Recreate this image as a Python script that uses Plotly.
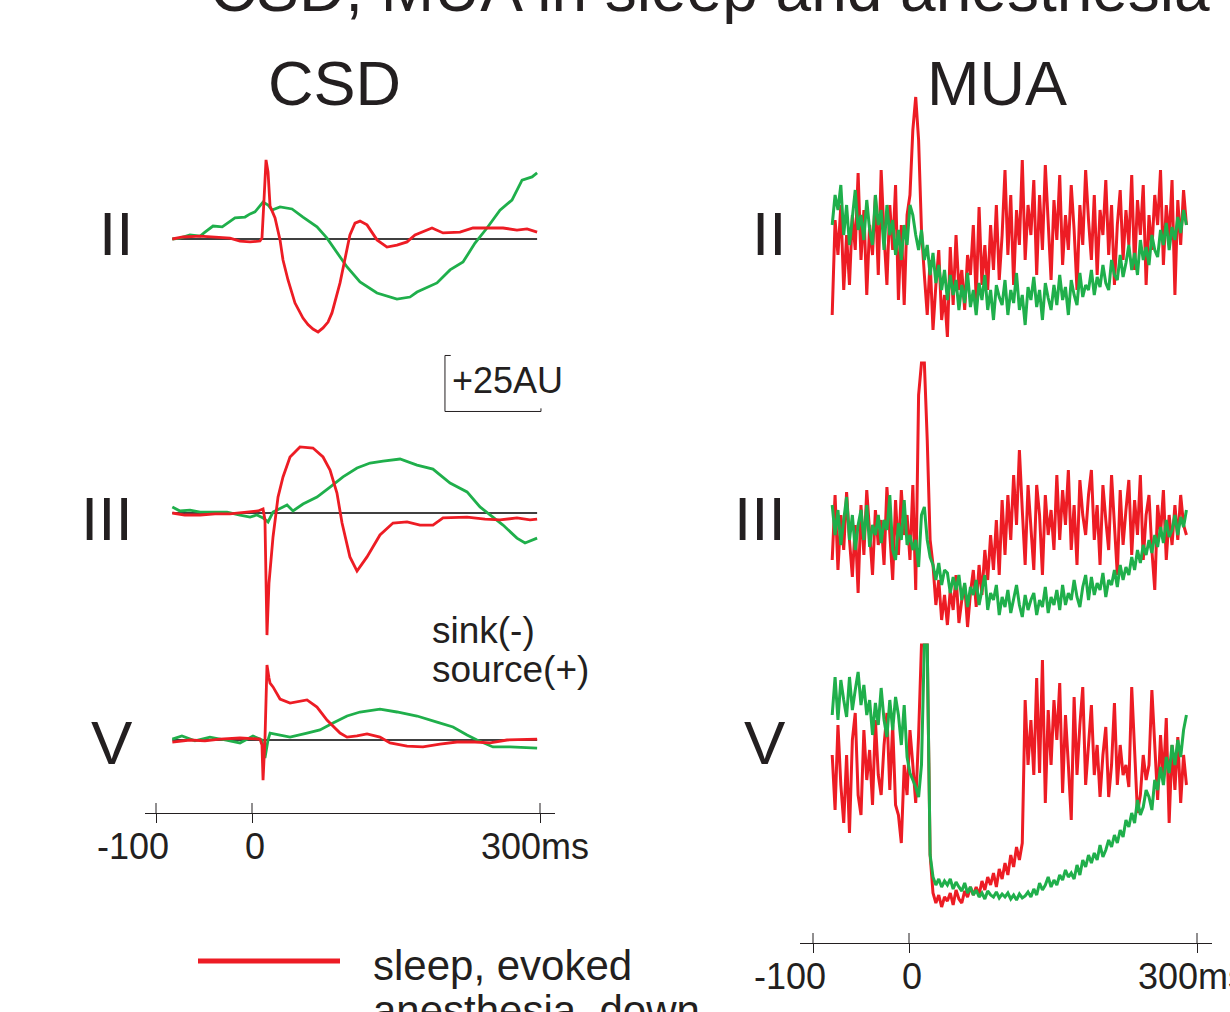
import plotly.graph_objects as go

# ------------------------------------------------------------------ data
# CSD (AU, upward = positive deflection), time in ms relative to stimulus / down-state onset
csd_II_red_t = [-83, -72, -54, -39, -23, -12.5, -2, 8.3, 10.4, 12.5, 14.6, 16.7, 18.8, 24, 29.2, 32.3, 37.5,
                44.8, 53.1, 58.3, 63.5, 68.8, 74, 79.2, 83.3, 91.7, 96.9, 102, 107.3, 112.5, 119.8, 130.2,
                140.6, 151, 161.5, 169.8, 187.5, 199, 216.7, 230.2, 248, 261.5, 276, 286.5, 297]
csd_II_red_v = [0, 0.9, 1.3, 0.9, 0.4, -0.9, -1.3, -0.9, 0.4, 17.4, 35.3, 29.9, 14.7, 9.4, -0.4, -9.4, -18.3,
                -28.6, -35.3, -38.2, -40.2, -41.5, -39.7, -37.1, -33, -19.6, -9.4, 1.8, 7.1, 8, 6.3, -0.4,
                -3.6, -2.7, -1.3, 1.8, 4.9, 2.7, 3.1, 4.9, 4.9, 4.9, 4, 4.5, 3.1]

csd_II_green_t = [-83, -75, -64.6, -54, -49, -40.6, -31, -17.7, -7.3, -2, 3.1, 11.5, 16.7, 20.8, 29.2, 41.7,
                  53.1, 67.7, 78.1, 88.5, 99, 112.5, 130.2, 151, 164.6, 171.9, 192.7, 206.3, 219.8, 232.3,
                  244.8, 258.3, 270.8, 281.3, 291.7, 297]
csd_II_green_v = [0, 0.4, 1.8, 1.3, 3.1, 5.8, 5.4, 9.4, 9.8, 11.2, 12.1, 16.5, 15.2, 12.9, 14.3, 13.4,
                  9.8, 5.4, 0.4, -6.3, -12.5, -19.2, -24.1, -26.8, -25.9, -23.7, -19.6, -13.8, -10.3, -1.8,
                  4.9, 12.9, 17.4, 26.3, 27.7, 29.5]

csd_III_red_t = [-83, -70, -54, -38.5, -23, -5.2, 6.3, 11.5, 13.5, 15.6, 17.7, 21.9, 27.1, 32.3, 39.6, 50,
                 63.5, 74, 81.3, 88.5, 93.8, 102, 109.4, 119.8, 133.3, 146.9, 161.5, 175, 188.5, 199, 224,
                 242.7, 258.3, 276, 289.6, 297]
csd_III_red_v = [0, -0.9, -0.9, -0.4, -0.4, 0.4, 0.9, 1.8, -3.1, -54.5, -31.3, -10.7, 7.1, 16.1, 25, 29.5,
                 29, 25, 19.2, 8.9, -4.5, -19.6, -25.9, -19.6, -9.8, -4.5, -4, -5.4, -5.4, -2.2, -1.8,
                 -2.7, -3.1, -2.2, -3.1, -2.7]

csd_III_green_t = [-83, -75, -64.6, -54, -38.5, -26, -12.5, -2, 5.2, 11.5, 16.7, 21.9, 36.5, 42.7, 53.1,
                   67.7, 81.3, 94.8, 109.4, 123, 136.5, 154.2, 171.9, 188.5, 206.3, 224, 237.5, 248, 261.5,
                   276, 284.4, 297]
csd_III_green_v = [2.7, 0.9, 1.3, 0.4, 0.4, 0.4, -0.9, -1.8, -0.9, -2.2, -4, 0.4, 3.6, 0.9, 4,
                   7.1, 11.6, 16.1, 20.1, 22.3, 23.2, 24.1, 21.4, 19.6, 13.4, 9.4, 2.7, -0.9, -5.4,
                   -11.2, -13.4, -11.2]

csd_V_red_t = [-83, -64.6, -49, -33.3, -12.5, 8.3, 10.4, 11.5, 13.5, 15.6, 17.7, 18.8, 21.9, 29.2, 39.6,
               57.3, 67.7, 78.1, 91.7, 99, 109.4, 119.8, 133.3, 143.8, 161.5, 178.1, 195.8, 213.5, 232.3,
               248, 265.6, 297]
csd_V_red_v = [-0.9, 0, -0.4, 0.4, 0.9, 0.4, -2.2, -17.9, 0, 33.5, 27.7, 25.4, 23.7, 18.3, 16.5,
               17.9, 14.7, 8.9, 3.1, 1.3, 1.8, 2.7, 1.3, -1.3, -2.7, -3.1, -1.8, -0.9, -0.9,
               -1.3, 0, 0.4]

csd_V_green_t = [-83, -73, -59.4, -43.8, -28, -12.5, 1, 10.4, 13.5, 16.7, 18.8, 29.2, 39.6, 57.3, 70.8,
                 84.4, 99, 112.5, 133.3, 151, 171.9, 192.7, 209.4, 224, 234.4, 251, 268.8, 297]
csd_V_green_v = [0.4, 1.8, -0.4, 1.3, 0, -1.3, 1.8, 0, -8, 0, 3.1, 2.2, 1.3, 3.1, 4.5,
                 7.6, 10.7, 12.5, 13.8, 12.5, 10.7, 8, 5.8, 2.2, 0, -3.1, -3.1, -3.6]

# MUA (arbitrary units), sampled every 3 ms from -80 ms
mua_II_red = [30, 125, 90, 140, 55, 110, 60, 130, 95, 172,
              85, 135, 50, 120, 90, 150, 70, 175, 110, 60,
              140, 95, 160, 45, 120, 40, 130, 150, 215, 248,
              205, 115, 70, 30, 85, 15, 60, 95, 25, 50,
              8, 98, 40, 110, 55, 75, 35, 90, 70, 120,
              45, 138, 60, 100, 55, 120, 75, 140, 65, 110,
              175, 90, 150, 60, 135, 100, 185, 85, 140, 110,
              165, 70, 150, 95, 180, 120, 65, 145, 105, 170,
              80, 130, 95, 160, 115, 55, 140, 100, 175, 125,
              85, 150, 70, 135, 110, 165, 90, 140, 60, 120,
              155, 85, 135, 100, 170, 75, 145, 110, 160, 60,
              130, 95, 150, 120, 175, 80, 140, 105, 165, 50,
              145, 100, 155, 120]
mua_II_green = [120, 150, 135, 160, 110, 140, 100, 125, 155, 115,
                130, 105, 145, 115, 100, 150, 120, 135, 95, 140,
                110, 125, 90, 115, 85, 120, 100, 140, 130, 110,
                95, 115, 85, 100, 70, 92, 62, 80, 55, 75,
                45, 70, 50, 65, 35, 60, 42, 72, 38, 55,
                30, 62, 45, 70, 35, 55, 25, 60, 48, 40,
                65, 30, 55, 42, 72, 35, 50, 20, 58, 45,
                68, 38, 55, 25, 62, 47, 35, 60, 40, 70,
                45, 58, 30, 65, 50, 40, 72, 48, 60, 55,
                75, 50, 68, 58, 80, 62, 55, 85, 70, 65,
                90, 68, 82, 100, 75, 92, 70, 105, 85, 98,
                80, 110, 95, 88, 115, 100, 122, 95, 118, 105,
                128, 112, 135, 120]
mua_III_red = [75, 140, 65, 120, 85, 143, 95, 58, 110, 42,
               130, 80, 145, 100, 60, 125, 90, 115, 70, 148,
               95, 55, 135, 80, 145, 100, 120, 75, 150, 45,
               240, 272, 272, 195, 95, 70, 30, 55, 15, 40,
               10, 45, 25, 60, 12, 35, 50, 8, 42, 65,
               28, 70, 40, 85, 55, 100, 65, 115, 60, 135,
               80, 140, 95, 160, 110, 185, 125, 70, 150, 105,
               65, 150, 120, 60, 140, 100, 125, 85, 160, 95,
               145, 110, 165, 85, 130, 70, 155, 120, 100, 140,
               165, 95, 130, 70, 150, 115, 85, 160, 105, 60,
               145, 90, 125, 155, 80, 135, 100, 160, 75, 120,
               140, 85, 45, 130, 100, 145, 75, 120, 90, 130,
               95, 140, 110, 100]
mua_III_green = [130, 100, 125, 90, 115, 138, 95, 120, 85, 110,
                 125, 95, 130, 88, 110, 100, 120, 92, 115, 105,
                 140, 85, 75, 112, 95, 135, 90, 100, 85, 95,
                 68, 120, 128, 95, 78, 70, 55, 72, 50, 65,
                 62, 42, 58, 45, 60, 35, 52, 28, 48, 40,
                 55, 30, 45, 60, 25, 42, 35, 50, 20, 38,
                 28, 45, 22, 38, 50, 30, 18, 40, 25, 35,
                 42, 20, 35, 28, 48, 22, 38, 30, 45, 25,
                 50, 30, 42, 35, 55, 38, 28, 48, 60, 35,
                 58, 40, 52, 45, 62, 38, 55, 50, 65, 48,
                 70, 55, 68, 60, 78, 65, 85, 72, 90, 80,
                 95, 82, 100, 88, 108, 92, 115, 98, 105, 120,
                 100, 118, 108, 125]
mua_V_red = [160, 105, 190, 130, 92, 160, 82, 175, 202, 120,
             100, 185, 135, 165, 110, 195, 140, 120, 170, 202,
             125, 190, 110, 100, 72, 150, 120, 185, 150, 112,
             180, 270, 270, 270, 60, 22, 12, 20, 8, 18,
             14, 22, 10, 25, 16, 12, 24, 18, 28, 20,
             28, 20, 34, 25, 38, 30, 42, 28, 46, 36,
             52, 40, 60, 48, 68, 55, 72, 215, 150, 195,
             140, 237, 142, 255, 112, 205, 150, 215, 175, 232,
             122, 200, 150, 95, 218, 140, 190, 228, 130, 175,
             210, 140, 170, 118, 160, 188, 118, 150, 212, 130,
             170, 140, 150, 128, 228, 165, 102, 120, 160, 135,
             150, 225, 165, 115, 180, 135, 197, 92, 170, 125,
             178, 112, 160, 130]
mua_V_green = [200, 238, 195, 235, 215, 198, 238, 205, 225, 243,
               210, 230, 200, 215, 180, 212, 190, 227, 195, 178,
               215, 185, 218, 200, 170, 210, 158, 142, 135, 128,
               118, 150, 270, 270, 60, 38, 30, 36, 28, 34,
               30, 36, 26, 33, 28, 24, 32, 22, 28, 20,
               25, 18, 22, 16, 24, 20, 18, 23, 17, 21,
               18, 22, 16, 20, 15, 21, 17, 19, 23, 18,
               26, 20, 32, 25, 30, 38, 28, 35, 30, 40,
               35, 45, 38, 42, 36, 50, 40, 55, 48, 60,
               52, 62, 55, 70, 58, 65, 75, 68, 80, 72,
               85, 78, 95, 88, 102, 92, 115, 100, 108, 125,
               118, 105, 135, 125, 148, 130, 158, 142, 170, 150,
               175, 158, 185, 200]
mua_t = [-80 + 3 * i for i in range(len(mua_II_red))]

layers = ["II", "III", "V"]
time_ticks = [-100, 0, 300]
time_tick_text = ["-100", "0", "300ms"]
scale_bar_ms = 100
scale_bar_au = 25
legend_labels = ["sleep, evoked", "anesthesia, down"]

# ------------------------------------------------------------------ style / geometry
W, H = 1230, 1012
FONT = "Liberation Sans, Arial, Helvetica, sans-serif"
INK = "#231F20"
RED = "#ED1C24"
GREEN = "#1FAF4B"
PX_PER_MS = 0.96
CSD_ZERO_PX, MUA_ZERO_PX = 252, 909
CSD_AXIS_PX, MUA_AXIS_PX = (145, 555), (800, 1212)
CSD_AXIS_ROW, MUA_AXIS_ROW = 813, 943
CSD_PX_PER_AU = 2.24
CSD_BASE_ROWS = [239, 513, 740]
MUA_ZERO_ROWS = [345, 635, 915]
LABEL_ROWS = [233, 518, 742]


def prow(row):
    return 1 - row / H


def xrange_for(lo, hi, zero):
    return [(lo - zero) / PX_PER_MS, (hi - zero) / PX_PER_MS]


csd_sets = [
    (csd_II_green_t, csd_II_green_v, csd_II_red_t, csd_II_red_v),
    (csd_III_green_t, csd_III_green_v, csd_III_red_t, csd_III_red_v),
    (csd_V_green_t, csd_V_green_v, csd_V_red_t, csd_V_red_v),
]
mua_sets = [
    (mua_II_red, mua_II_green),
    (mua_III_red, mua_III_green),
    (mua_V_red, mua_V_green),
]

fig = go.Figure()
csd_yaxes = ["y", "y2", "y3"]
mua_yaxes = ["y4", "y5", "y6"]

for i, (gt, gv, rt, rv) in enumerate(csd_sets):
    fig.add_trace(go.Scatter(x=gt, y=gv, mode="lines", line=dict(color=GREEN, width=2.8),
                             xaxis="x", yaxis=csd_yaxes[i], hoverinfo="skip", showlegend=False))
    fig.add_trace(go.Scatter(x=rt, y=rv, mode="lines", line=dict(color=RED, width=2.8),
                             xaxis="x", yaxis=csd_yaxes[i], hoverinfo="skip", showlegend=False))

for i, (rv, gv) in enumerate(mua_sets):
    fig.add_trace(go.Scatter(x=mua_t, y=rv, mode="lines", line=dict(color=RED, width=3),
                             xaxis="x2", yaxis=mua_yaxes[i], hoverinfo="skip", showlegend=False))
    fig.add_trace(go.Scatter(x=mua_t, y=gv, mode="lines", line=dict(color=GREEN, width=3),
                             xaxis="x2", yaxis=mua_yaxes[i], hoverinfo="skip", showlegend=False))

xcommon = dict(anchor="free", showline=True, linecolor=INK, linewidth=1, ticks="outside",
               ticklen=9, tickwidth=1, tickcolor=INK, tickvals=time_ticks, showticklabels=False,
               showgrid=False, zeroline=False, fixedrange=True)
layout = dict(
    width=W, height=H, margin=dict(l=0, r=0, t=0, b=0, pad=0),
    paper_bgcolor="white", plot_bgcolor="rgba(0,0,0,0)", showlegend=False,
    xaxis=dict(domain=[CSD_AXIS_PX[0] / W, CSD_AXIS_PX[1] / W],
               range=xrange_for(*CSD_AXIS_PX, CSD_ZERO_PX), position=prow(CSD_AXIS_ROW), **xcommon),
    xaxis2=dict(domain=[MUA_AXIS_PX[0] / W, MUA_AXIS_PX[1] / W],
                range=xrange_for(*MUA_AXIS_PX, MUA_ZERO_PX), position=prow(MUA_AXIS_ROW), **xcommon),
)
for i, r0 in enumerate(CSD_BASE_ROWS):
    ax = dict(domain=[0, 1], range=[(r0 - H) / CSD_PX_PER_AU, r0 / CSD_PX_PER_AU],
              visible=False, fixedrange=True, anchor="x")
    if i > 0:
        ax["overlaying"] = "y"
    layout["yaxis" if i == 0 else f"yaxis{i + 1}"] = ax
for i, z in enumerate(MUA_ZERO_ROWS):
    ax = dict(domain=[0, 1], range=[z - H, z], visible=False, fixedrange=True, anchor="x2")
    if i > 0:
        ax["overlaying"] = "y4"
    layout[f"yaxis{i + 4}"] = ax
fig.update_layout(**layout)

shapes = []
# CSD zero baselines
for i, (gt, gv, rt, rv) in enumerate(csd_sets):
    shapes.append(dict(type="line", xref="x", yref=csd_yaxes[i], x0=min(gt[0], rt[0]), x1=max(gt[-1], rt[-1]),
                       y0=0, y1=0, line=dict(color="#000000", width=1.5), layer="below"))
# upper halves of the time-axis ticks
for xr, row in (("x", CSD_AXIS_ROW), ("x2", MUA_AXIS_ROW)):
    for tv in time_ticks:
        shapes.append(dict(type="line", xref=xr, yref="paper", x0=tv, x1=tv,
                           y0=prow(row), y1=prow(row - 10), line=dict(color=INK, width=1)))
# scale bar (25 AU x 100 ms)
sb_x0 = 201
sb_y0 = -77
shapes += [
    dict(type="line", xref="x", yref="y", x0=sb_x0, x1=sb_x0, y0=sb_y0, y1=sb_y0 + scale_bar_au,
         line=dict(color=INK, width=1)),
    dict(type="line", xref="x", yref="y", x0=sb_x0, x1=sb_x0 + 6, y0=sb_y0 + scale_bar_au,
         y1=sb_y0 + scale_bar_au, line=dict(color=INK, width=1)),
    dict(type="line", xref="x", yref="y", x0=sb_x0, x1=sb_x0 + scale_bar_ms, y0=sb_y0, y1=sb_y0,
         line=dict(color=INK, width=1)),
    dict(type="line", xref="x", yref="y", x0=sb_x0 + scale_bar_ms, x1=sb_x0 + scale_bar_ms,
         y0=sb_y0, y1=sb_y0 + 1.4, line=dict(color=INK, width=1)),
]
# legend lines
for color, row in ((RED, 961), (GREEN, 1016)):
    shapes.append(dict(type="line", xref="paper", yref="paper", x0=198 / W, x1=340 / W,
                       y0=prow(row), y1=prow(row), line=dict(color=color, width=5)))
fig.update_layout(shapes=shapes)

ann = []


def txt(text, xpx, row, size, xanchor="center"):
    ann.append(dict(text=text, x=xpx / W, y=prow(row), xref="paper", yref="paper",
                    xanchor=xanchor, yanchor="middle", showarrow=False,
                    font=dict(family=FONT, size=size, color=INK)))


txt("CSD, MUA in sleep and anesthesia", 710, -11, 64)
txt("CSD", 334, 83, 63)
txt("MUA", 997, 83, 63)
for name, row in zip(layers, LABEL_ROWS):
    txt(name, 135, row, 62, "right")
    txt(name, 788, row, 62, "right")
txt("+25AU", 450, 381, 36, "left")
txt("sink(-)", 430, 630, 37, "left")
txt("source(+)", 430, 669, 37, "left")
# tick labels (left & right time axes)
for zero, row in ((CSD_ZERO_PX, 846), (MUA_ZERO_PX, 976)):
    offsets = [-23, 3, -5]
    for tv, tt, off in zip(time_ticks, time_tick_text, offsets):
        txt(tt, zero + tv * PX_PER_MS + off, row, 36)
txt(legend_labels[0], 371, 965, 42, "left")
txt(legend_labels[1], 371, 1010, 42, "left")
fig.update_layout(annotations=ann)

fig.write_html("out.html")
